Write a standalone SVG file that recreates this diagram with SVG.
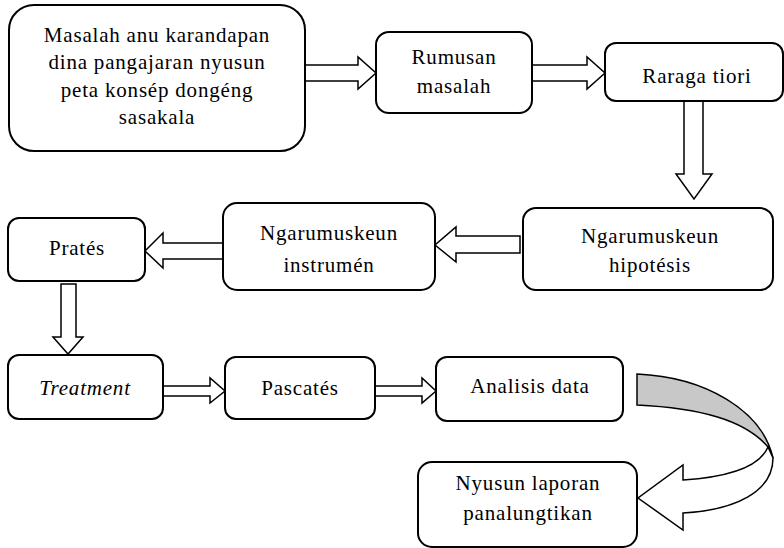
<svg xmlns="http://www.w3.org/2000/svg" width="784" height="548" viewBox="0 0 784 548">
<style>
.box{fill:#fff;stroke:#000;stroke-width:2}
.arr{fill:#fff;stroke:#000;stroke-width:1.5;stroke-linejoin:miter}
</style>
<rect width="784" height="548" fill="#fff"/>
<g id="connectors">
<path class="arr" d="M305,65 H358 V57 L376,73 L358,89 V81 H305 Z"/>
<path class="arr" d="M532,65 H587 V57 L605,73 L587,89 V81 H532 Z"/>
<path class="arr" d="M684,101 V174 H676 L694,199 L712,174 H703 V101 Z"/>
<path class="arr" d="M520,236 H456 V227 L435,245 L456,262 V253 H520 Z"/>
<path class="arr" d="M223,243 H163 V233 L145,251 L163,268 V259 H223 Z"/>
<path class="arr" d="M61,284 V337 H53 L68,354 L83,337 H76 V284 Z"/>
<path class="arr" d="M163,386 H210 V378 L225,391 L210,403 V396 H163 Z"/>
<path class="arr" d="M375,386 H422 V378 L436,391 L422,403 V396 H375 Z"/>
<path d="M637,374 C705,377 762,410 773,458 L768,447 C745,420 700,408 637,405 Z" fill="#c8c8c8" stroke="#000" stroke-width="1.5"/>
<path class="arr" d="M768,447 C760,466 730,477 683,480 V465 L638,498 L683,530 V513 C735,510 773,492 773,458 Z"/>
</g>
<g id="nodes" font-family="Liberation Serif, Times New Roman, serif" font-size="21" letter-spacing="0.8" text-anchor="middle" fill="#000">
<g id="n1"><rect class="box" x="9" y="5" width="296" height="146" rx="25"/>
<text x="157" y="42">Masalah anu karandapan</text><text x="157" y="69">dina pangajaran nyusun</text><text x="157" y="97">peta konsép dongéng</text><text x="157" y="124">sasakala</text></g>
<g id="n2"><rect class="box" x="376" y="32" width="156" height="81" rx="13"/>
<text x="454" y="64">Rumusan</text><text x="454" y="93">masalah</text></g>
<g id="n3"><rect class="box" x="605" y="43" width="178" height="58" rx="11"/>
<text x="697" y="83">Raraga  tiori</text></g>
<g id="n4"><rect class="box" x="523" y="208" width="250" height="82" rx="13"/>
<text x="650" y="243">Ngarumuskeun</text><text x="650" y="272">hipotésis</text></g>
<g id="n5"><rect class="box" x="223" y="203" width="212" height="87" rx="14"/>
<text x="329" y="240">Ngarumuskeun</text><text x="329" y="272">instrumén</text></g>
<g id="n6"><rect class="box" x="8" y="218" width="137" height="63" rx="11"/>
<text x="77" y="255">Pratés</text></g>
<g id="n7"><rect class="box" x="8" y="355" width="155" height="64" rx="11"/>
<text x="85" y="395" font-style="italic">Treatment</text></g>
<g id="n8"><rect class="box" x="225" y="357" width="150" height="62" rx="11"/>
<text x="300" y="395">Pascatés</text></g>
<g id="n9"><rect class="box" x="436" y="357" width="187" height="64" rx="11"/>
<text x="530" y="393">Analisis data</text></g>
<g id="n10"><rect class="box" x="418" y="462" width="219" height="85" rx="14"/>
<text x="528" y="490">Nyusun laporan</text><text x="528" y="520">panalungtikan</text></g>
</g>
</svg>
